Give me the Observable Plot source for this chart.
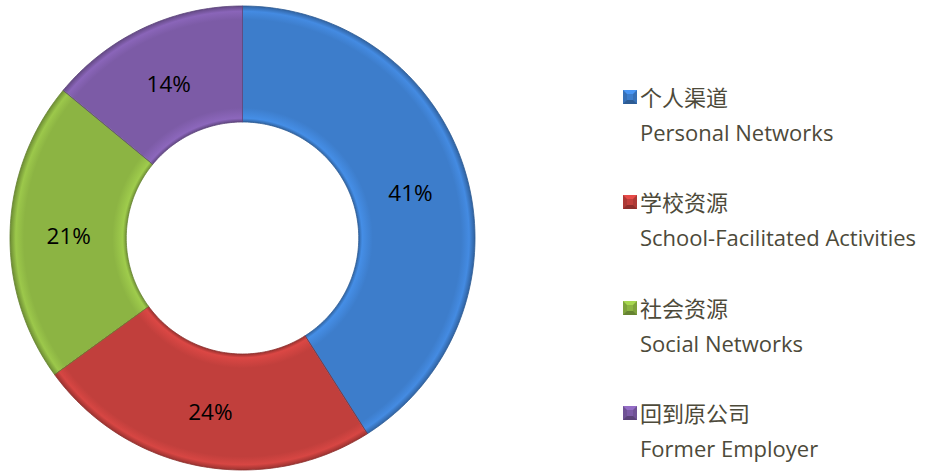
<!DOCTYPE html>
<html>
<head>
<meta charset="utf-8">
<script src="https://cdn.jsdelivr.net/npm/d3@7"></script>
<script src="https://cdn.jsdelivr.net/npm/@observablehq/plot@0.6"></script>
<style>
  html, body { margin: 0; padding: 0; background: #fff; }
  #wrap { position: relative; width: 930px; height: 471px; overflow: hidden; }
  .lg { position: absolute; white-space: nowrap; color: #4d4a3a; }
  .zh { font-family: "Noto Sans CJK SC", sans-serif; font-size: 22px; line-height: 26px; }
  .en { font-family: "Open Sans", sans-serif; font-size: 22px; line-height: 26px; }
  .sw { position: absolute; width: 6px; height: 6px; border-style: solid; border-width: 4px; }
</style>
</head>
<body>
<div id="wrap"></div>
<script>
const categories = ["个人渠道", "学校资源", "社会资源", "回到原公司"];
const englishLabels = ["Personal Networks", "School-Facilitated Activities", "Social Networks", "Former Employer"];
const values = [41, 24, 21, 14];
const colors = ["#3d7dcb", "#c13f3c", "#8cb443", "#7c5ba6"];

const innerRatio = 0.5;
const total = d3.sum(values);

// build ring polygons from the values (angles clockwise from 12 o'clock)
let acc = 0;
const slices = values.map((v, i) => {
  const a0 = acc / total * 2 * Math.PI;
  acc += v;
  const a1 = acc / total * 2 * Math.PI;
  const n = Math.max(8, Math.ceil(v * 3));
  const pts = d3.range(n + 1).map(k => {
    const a = a0 + (a1 - a0) * k / n;
    return {xo: Math.sin(a), yo: Math.cos(a), xi: innerRatio * Math.sin(a), yi: innerRatio * Math.cos(a)};
  });
  const am = (a0 + a1) / 2, rm = (1 + innerRatio) / 2;
  return {i, pts, label: {x: rm * Math.sin(am), y: rm * Math.cos(am), text: `${v}%`}};
});

const marks = slices.map(s =>
  Plot.area(s.pts, {
    x1: "xo", y1: "yo", x2: "xi", y2: "yi",
    fill: `url(#g${s.i})`,
    stroke: d3.color(colors[s.i]).darker(0.9).formatHex(),
    strokeWidth: 0.8
  })
);
marks.push(Plot.text(slices.map(s => s.label), {
  x: "x", y: "y", text: "text", fontSize: 22.5, fill: "#000", dy: 3.5,
  fontFamily: "Open Sans, sans-serif"
}));

const W = 930, H = 471;
const plot = Plot.plot({
  width: W, height: H,
  marginLeft: 10, marginRight: 455, marginTop: 6, marginBottom: 1,
  x: {domain: [-1, 1], axis: null},
  y: {domain: [-1, 1], axis: null},
  style: {background: "transparent", overflow: "visible"},
  marks
});

// bevel-like radial gradients
const xs = plot.scale("x"), ys = plot.scale("y");
const cx = xs.apply(0), cy = ys.apply(0), R = xs.apply(1) - xs.apply(0);
const defs = d3.select(plot).insert("defs", ":first-child");
colors.forEach((c, i) => {
  const base = d3.color(c);
  const g = defs.append("radialGradient").attr("id", `g${i}`)
    .attr("gradientUnits", "userSpaceOnUse")
    .attr("cx", cx).attr("cy", cy).attr("r", R);
  [
    [0.50, base.darker(0.6)],
    [0.515, base.brighter(0.35)],
    [0.56, base],
    [0.94, base],
    [0.975, base.brighter(0.3)],
    [1.0, base.darker(0.7)]
  ].forEach(([o, col]) => g.append("stop").attr("offset", o).attr("stop-color", col.formatHex()));
});

const wrap = document.getElementById("wrap");
wrap.appendChild(plot);

// legend
const rowStep = 105.3;
categories.forEach((c, i) => {
  const top = 83 + i * rowStep;
  const base = d3.color(colors[i]);
  const sw = document.createElement("div");
  sw.className = "sw";
  sw.style.left = "623px";
  sw.style.top = (top + 7) + "px";
  sw.style.background = base.formatHex();
  sw.style.borderTopColor = base.brighter(0.5).formatHex();
  sw.style.borderLeftColor = base.darker(0.3).formatHex();
  sw.style.borderRightColor = base.darker(0.3).formatHex();
  sw.style.borderBottomColor = base.darker(0.9).formatHex();
  wrap.appendChild(sw);

  const zh = document.createElement("div");
  zh.className = "lg zh";
  zh.style.left = "640px";
  zh.style.top = top + "px";
  zh.textContent = c;
  wrap.appendChild(zh);

  const en = document.createElement("div");
  en.className = "lg en";
  en.style.left = "640px";
  en.style.top = (top + 36) + "px";
  en.textContent = englishLabels[i];
  wrap.appendChild(en);
});
</script>
</body>
</html>
